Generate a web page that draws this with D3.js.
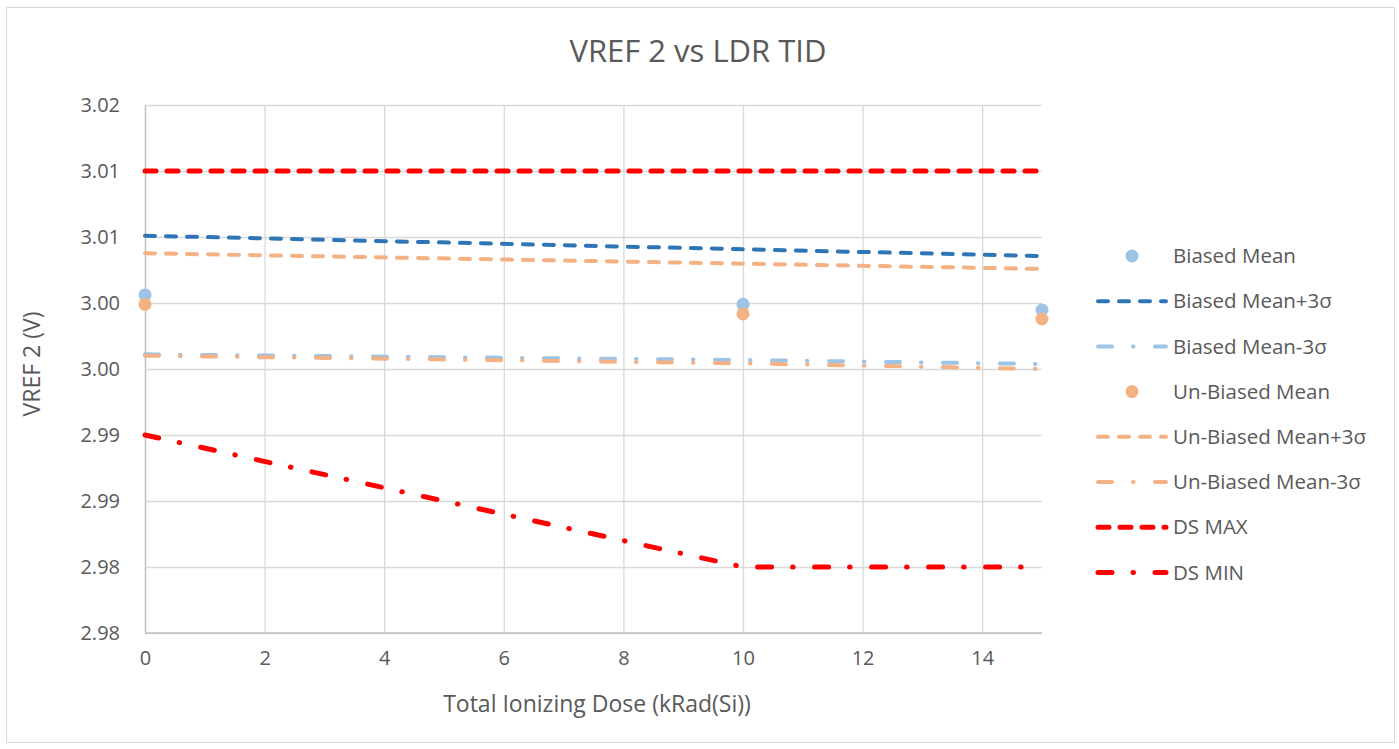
<!DOCTYPE html>
<html><head><meta charset="utf-8">
<script src="https://cdn.jsdelivr.net/npm/d3@7"></script>
<style>body{margin:0;background:#fff}svg{display:block}text{font-family:"Open Sans","Noto Sans",sans-serif;fill:#595959}</style>
</head><body><svg id="c" width="1399" height="749"></svg>
<script>
const doses = [0, 10, 15];
const biasedMean = [3.00561, 3.00490, 3.00447];
const biasedPlus = [3.01010, 3.00907, 3.00856];
const biasedMinus = [3.00111, 3.00068, 3.00038];
const unbiasedMean = [3.00490, 3.00417, 3.00379];
const unbiasedPlus = [3.00877, 3.00798, 3.00758];
const unbiasedMinus = [3.00101, 3.00043, 3.00000];
const dsMax = [3.015, 3.015, 3.015];
const dsMin = [2.995, 2.985, 2.985];
const yTicks = [3.02, 3.015, 3.01, 3.005, 3.00, 2.995, 2.99, 2.985, 2.98];
const yTickLabels = ["3.02", "3.01", "3.01", "3.00", "3.00", "2.99", "2.99", "2.98", "2.98"];
const xTicks = [0, 2, 4, 6, 8, 10, 12, 14];

const svg = d3.select("#c");
const L = 145, R = 1042, T = 105, B = 633;
const x = d3.scaleLinear().domain([0, 15]).range([L, R]);
const y = d3.scaleLinear().domain([2.98, 3.02]).range([B, T]);

svg.append("rect").attr("x", 6.5).attr("y", 7.5).attr("width", 1388).attr("height", 735)
  .attr("fill", "#fff").attr("stroke", "#d9d9d9").attr("stroke-width", 1);

// gridlines
const gy = svg.append("g").attr("transform", `translate(${L},0)`)
  .call(d3.axisLeft(y).tickValues(yTicks).tickSize(-(R - L)).tickFormat(""));
gy.select(".domain").remove();
gy.selectAll("line").attr("stroke", "#d9d9d9").attr("stroke-width", 1.3);
const gx = svg.append("g").attr("transform", `translate(0,${B})`)
  .call(d3.axisBottom(x).tickValues(xTicks).tickSize(-(B - T)).tickFormat(""));
gx.select(".domain").remove();
gx.selectAll("line").attr("stroke", "#d9d9d9").attr("stroke-width", 1.3);

// axes
const ay = svg.append("g").attr("transform", `translate(${L},0)`)
  .call(d3.axisLeft(y).tickValues(yTicks).tickSize(0).tickPadding(25).tickFormat((d, i) => yTickLabels[i]));
ay.select(".domain").attr("stroke", "#bfbfbf").attr("stroke-width", 1.3);
ay.selectAll("text").style("font-size", "20px").attr("fill", "#595959");
const ax = svg.append("g").attr("transform", `translate(0,${B})`)
  .call(d3.axisBottom(x).tickValues(xTicks).tickSize(0).tickPadding(18));
ax.select(".domain").attr("stroke", "#bfbfbf").attr("stroke-width", 1.3).attr("d", `M${L},0H${R}`);
ax.selectAll("text").style("font-size", "20px").attr("fill", "#595959");

// title & axis titles
svg.append("text").attr("x", 698).attr("y", 62).attr("text-anchor", "middle")
  .style("font-size", "31px").text("VREF 2 vs LDR TID");
svg.append("text").attr("x", 597).attr("y", 712).attr("text-anchor", "middle")
  .style("font-size", "23px").text("Total Ionizing Dose (kRad(Si))");
svg.append("text").attr("transform", "translate(40,364) rotate(-90)").attr("text-anchor", "middle")
  .style("font-size", "23px").text("VREF 2 (V)");

const BL = "#9dc3e6", DB = "#2e75b6", OR = "#f4b183", RD = "#ff0000";
const dashStyle = "10,11", ldd = "14,21,0.5,21.5";
const series = [
  {name: "Biased Mean", data: biasedMean, type: "pt", color: BL},
  {name: "Biased Mean+3σ", data: biasedPlus, type: "ln", color: DB, w: 4, dash: dashStyle},
  {name: "Biased Mean-3σ", data: biasedMinus, type: "ln", color: BL, w: 4, dash: ldd},
  {name: "Un-Biased Mean", data: unbiasedMean, type: "pt", color: OR},
  {name: "Un-Biased Mean+3σ", data: unbiasedPlus, type: "ln", color: OR, w: 4, dash: dashStyle},
  {name: "Un-Biased Mean-3σ", data: unbiasedMinus, type: "ln", color: OR, w: 4, dash: ldd},
  {name: "DS MAX", data: dsMax, type: "ln", color: RD, w: 5, dash: "11,11"},
  {name: "DS MIN", data: dsMin, type: "ln", color: RD, w: 5, dash: ldd}
];
const line = d3.line().x(d => x(d[0])).y(d => y(d[1]));
series.forEach(s => {
  const pts = doses.map((d, i) => [d, s.data[i]]);
  if (s.type === "ln") {
    svg.append("path").datum(pts).attr("d", line).attr("fill", "none")
      .attr("stroke", s.color).attr("stroke-width", s.w).attr("stroke-dasharray", s.dash)
      .attr("stroke-linecap", "round").attr("stroke-linejoin", "round");
  } else {
    svg.append("g").selectAll("circle").data(pts).join("circle")
      .attr("cx", d => x(d[0])).attr("cy", d => y(d[1])).attr("r", 6.5).attr("fill", s.color);
  }
});

// legend
const lg = svg.append("g");
series.forEach((s, i) => {
  const yy = 256 + i * 45.2;
  if (s.type === "ln") {
    lg.append("line").attr("x1", 1098).attr("x2", 1166).attr("y1", yy).attr("y2", yy)
      .attr("stroke", s.color).attr("stroke-width", s.w).attr("stroke-dasharray", s.dash)
      .attr("stroke-linecap", "round");
  } else {
    lg.append("circle").attr("cx", 1132).attr("cy", yy).attr("r", 6.5).attr("fill", s.color);
  }
  lg.append("text").attr("x", 1173).attr("y", yy).attr("dy", "0.35em")
    .style("font-size", "20.5px").text(s.name);
});
</script></body></html>
